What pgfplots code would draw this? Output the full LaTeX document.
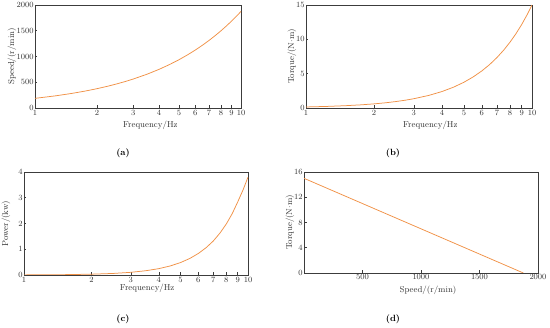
\documentclass[border=0pt]{standalone}
\usepackage{pgfplots}
\pgfplotsset{compat=1.18}
\definecolor{lineor}{RGB}{240,145,70}
\definecolor{frame}{RGB}{60,60,60}
\pgfplotsset{
  panel/.style={
    scale only axis,
    anchor=south west,
    axis line style={frame, line width=0.6pt},
    tick style={frame, line width=0.5pt},
    tick pos=left,
    tick align=inside,
    major tick length=2.5pt,
    minor tick length=0pt,
    /pgf/number format/1000 sep={},
    tick label style={font=\fontsize{8}{9}\selectfont, text=black!80},
    xticklabel style={inner ysep=1.5pt},
    yticklabel style={inner xsep=1.2pt},
    label style={font=\fontsize{8.6}{10}\selectfont, text=black!80},
  },
  ln/.style={lineor, line width=0.75pt, no markers},
}
\begin{document}
\begin{tikzpicture}
\path[use as bounding box] (0,0) rectangle (550pt,328pt);

% (a)
\begin{axis}[xmode=log, panel, at={(35pt,220pt)}, width=206pt, height=103pt,
  xmin=1, xmax=10, xtick={1,2,3,4,5,6,7,8,9,10},
  xticklabels={1,2,3,4,5,6,7,8,9,10}, minor xtick={},
  xlabel={Frequency/Hz},
  ymin=0, ymax=2000, ytick={0,500,1000,1500,2000},
  ylabel={Speed/(r/min)},
  xlabel style={at={(axis description cs:0.56,-0.165)}, anchor=center},
  ylabel style={at={(axis description cs:-0.112,0.5)}, anchor=center}]
\addplot[ln] coordinates {(1,187.5) (1.25,234.4) (1.5,281.3) (1.75,328.1) (2,375) (2.25,421.9) (2.5,468.8) (2.75,515.6) (3,562.5) (3.5,656.3) (4,750) (4.5,843.8) (5,937.5) (5.5,1031.3) (6,1125) (6.5,1218.8) (7,1312.5) (7.5,1406.3) (8,1500) (8.5,1593.8) (9,1687.5) (9.5,1781.3) (10,1875)};
\end{axis}

% (b)
\begin{axis}[xmode=log, panel, at={(306pt,220pt)}, width=226pt, height=103pt,
  xmin=1, xmax=10, xtick={1,2,3,4,5,6,7,8,9,10},
  xticklabels={1,2,3,4,5,6,7,8,9,10}, minor xtick={},
  xlabel={Frequency/Hz},
  ymin=0, ymax=15, ytick={0,5,10,15},
  ylabel={Torque/(N$\cdot$m)},
  xlabel style={at={(axis description cs:0.55,-0.165)}, anchor=center},
  ylabel style={at={(axis description cs:-0.062,0.5)}, anchor=center}]
\addplot[ln] coordinates {(1,0.15) (1.25,0.234) (1.5,0.338) (1.75,0.459) (2,0.6) (2.25,0.759) (2.5,0.938) (2.75,1.134) (3,1.35) (3.5,1.838) (4,2.4) (4.5,3.038) (5,3.75) (5.5,4.538) (6,5.4) (6.5,6.338) (7,7.35) (7.5,8.438) (8,9.6) (8.5,10.838) (9,12.15) (9.5,13.538) (10,15)};
\end{axis}

% (c)
\begin{axis}[xmode=log, panel, at={(24pt,53pt)}, width=224pt, height=103pt,
  xmin=1, xmax=10, xtick={1,2,3,4,5,6,7,8,9,10},
  xticklabels={1,2,3,4,5,6,7,8,9,10}, minor xtick={},
  xlabel={Frequency/Hz},
  ymin=0, ymax=4, ytick={0,1,2,3,4},
  ylabel={Power/(kw)},
  xlabel style={at={(axis description cs:0.55,-0.125)}, anchor=center},
  ylabel style={at={(axis description cs:-0.080,0.5)}, anchor=center}]
\addplot[ln] coordinates {(1,0.004) (1.5,0.013) (2,0.031) (2.5,0.060) (3,0.104) (3.5,0.166) (4,0.247) (4.5,0.352) (5,0.483) (5.5,0.643) (6,0.835) (6.5,1.06) (7,1.32) (7.5,1.63) (8,1.98) (8.5,2.38) (9,2.84) (9.5,3.30) (10,3.8)};
\end{axis}

% (d)
\begin{axis}[panel, at={(304pt,55pt)}, width=234pt, height=101pt,
  xmin=0, xmax=2000, xtick={500,1000,1500,2000},
  ymin=0, ymax=16, ytick={0,4,8,12,16},
  xlabel={Speed/(r/min)}, ylabel={Torque/(N$\cdot$m)},
  xlabel style={at={(axis description cs:0.53,-0.17)}, anchor=center},
  ylabel style={at={(axis description cs:-0.060,0.5)}, anchor=center}]
\addplot[ln] coordinates {(0,15) (500,11) (1000,7) (1500,3) (1875,0)};
\end{axis}

\node[font=\fontsize{9}{10}\selectfont\bfseries] at (123pt,175pt) {(a)};
\node[font=\fontsize{9}{10}\selectfont\bfseries] at (393pt,175pt) {(b)};
\node[font=\fontsize{9}{10}\selectfont\bfseries] at (123pt,9pt) {(c)};
\node[font=\fontsize{9}{10}\selectfont\bfseries] at (393pt,9pt) {(d)};
\end{tikzpicture}
\end{document}
